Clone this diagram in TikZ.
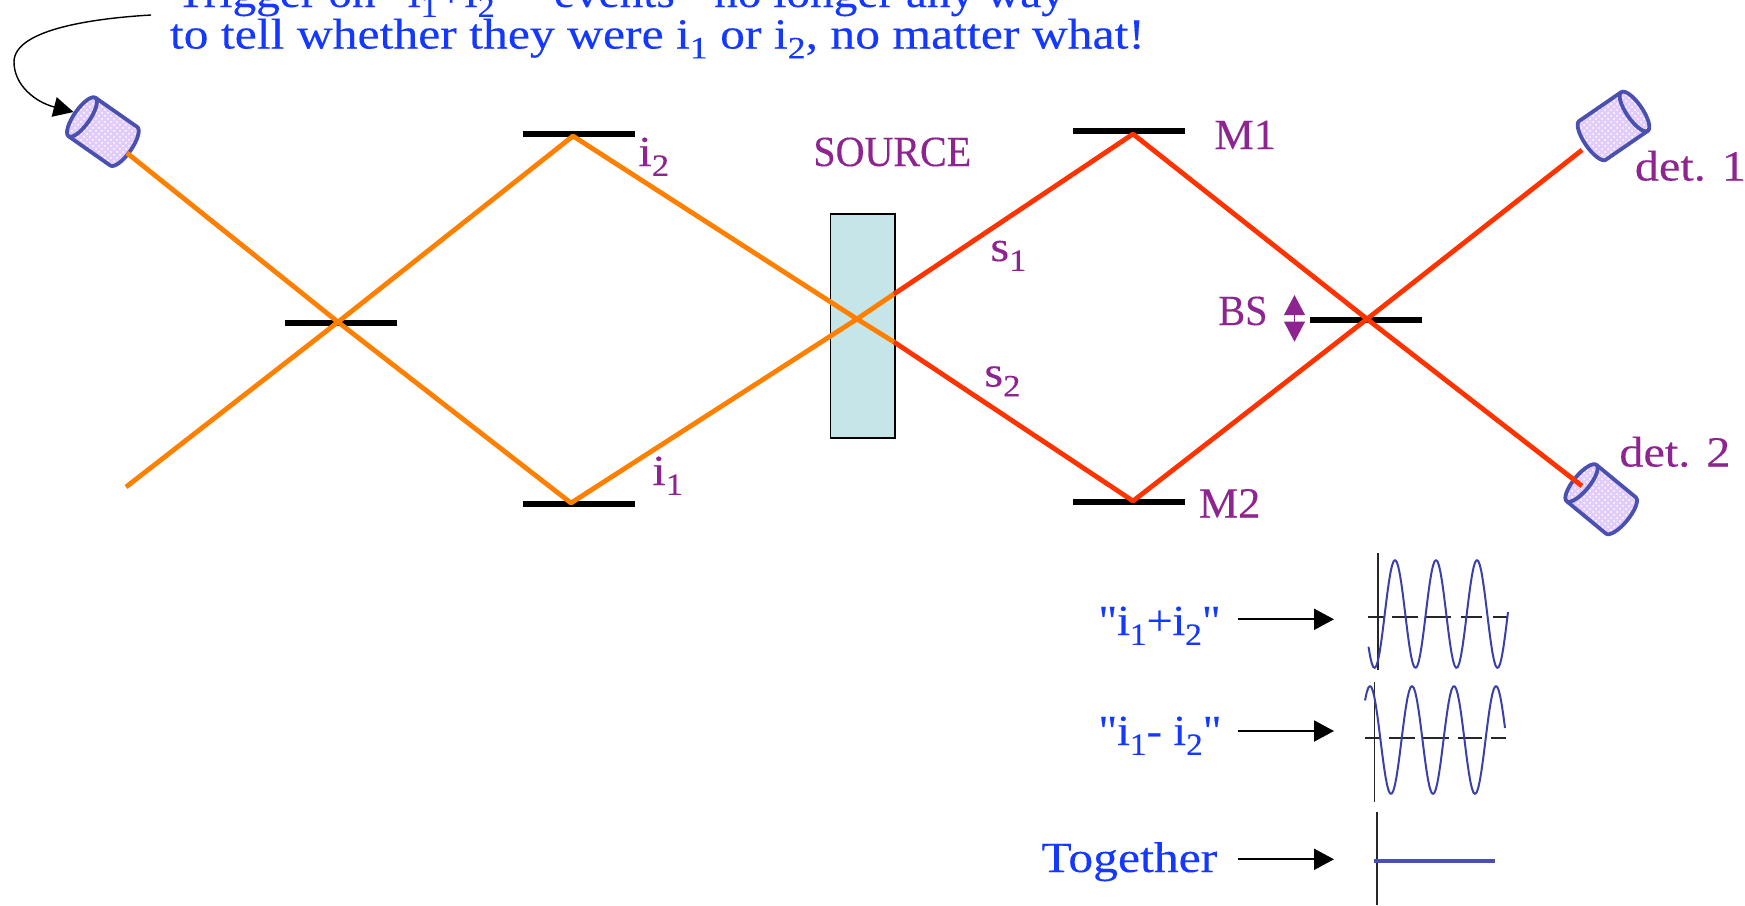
\documentclass[tikz,border=0pt]{standalone}
\usepackage{fontspec}
\usetikzlibrary{arrows.meta,patterns}
\setmainfont{Liberation Serif}
\newfontfamily\lcfont[FakeStretch=1.12,FakeBold=0.25]{Liberation Serif}
\newfontfamily\ucfont[FakeStretch=0.93,FakeBold=0.25]{Liberation Serif}
\newfontfamily\blfont[FakeStretch=1.155,FakeBold=0.25]{Liberation Serif}
\newfontfamily\bafont[FakeStretch=1.10,FakeBold=0.25]{Liberation Serif}
\newfontfamily\bsfont[FakeStretch=1.03,FakeBold=0.25]{Liberation Serif}
\newfontfamily\bqfont[FakeStretch=1.07,FakeBold=0.25]{Liberation Serif}
\newcommand{\sbs}[1]{\raisebox{-0.23em}{\fontsize{15.5}{15.5}\selectfont #1}}
\definecolor{blu}{HTML}{1438FF}
\definecolor{pur}{HTML}{8E2490}
\definecolor{org}{HTML}{FF8000}
\definecolor{rd}{HTML}{FF3300}
\definecolor{dv}{HTML}{4A50B0}
\definecolor{wave}{HTML}{3A40A8}
\definecolor{boxc}{HTML}{C6E5E8}
\definecolor{detf}{HTML}{E2CCFA}
\tikzset{
  lab/.style={inner sep=0pt,anchor=base west,text=pur,font=\fontsize{21.5}{21.5}\selectfont\lcfont},
  ulab/.style={inner sep=0pt,anchor=base west,text=pur,font=\fontsize{21.5}{21.5}\selectfont\ucfont},
  blab/.style={inner sep=0pt,anchor=base west,text=blu,font=\fontsize{21.5}{21.5}\selectfont\blfont},
  mirror/.style={line width=3pt,black},
  oray/.style={line width=2.4pt,org,line join=round},
  rray/.style={line width=2.4pt,rd,line join=round},
  pointer/.style={line width=1pt,black,-{Triangle[length=10pt,width=10.5pt]}},
  wavec/.style={line width=1pt,wave,line join=round},
  axisl/.style={line width=0.8pt,black!85},
  detbody/.style={line width=1.9pt,draw=dv,line join=round,fill=detf}
}
\newcommand{\detshape}{(0,-23.5) -- (51,-23.5)
      .. controls (55.4,-23.5) and (59,-13) .. (59,0)
      .. controls (59,13) and (55.4,23.5) .. (51,23.5)
      -- (0,23.5) .. controls (-4.4,23.5) and (-8,13) .. (-8,0)
      .. controls (-8,-13) and (-4.4,-23.5) .. (0,-23.5) -- cycle}
\newcommand{\detector}[3]{%
  \begin{scope}[shift={(#1,#2)},rotate=#3]
    \path[fill=detf] \detshape;
    \path[pattern=crosshatch dots,pattern color=white] \detshape;
    \path[line width=1.9pt,draw=dv,line join=round] \detshape;
    \draw[line width=1.9pt,dv] (0,-23.5) .. controls (4.4,-23.5) and (8,-13) .. (8,0)
      .. controls (8,13) and (4.4,23.5) .. (0,23.5);
  \end{scope}}
\begin{document}
\begin{tikzpicture}[x=0.5pt,y=-0.5pt]
\useasboundingbox (0,0) rectangle (1745,905);
\clip (0,0) rectangle (1745,905);
% named points
\coordinate (DL) at (127,153);
\coordinate (XL) at (338,322);
\coordinate (TAIL) at (126,487);
\coordinate (I2) at (573,136);
\coordinate (I1) at (571,503);
\coordinate (XS) at (857,319);
\coordinate (S1) at (894,294);
\coordinate (S2) at (894,342);
\coordinate (M1) at (1133,134);
\coordinate (M2) at (1133,501);
\coordinate (BS) at (1367,319);
\coordinate (D1) at (1582,150);
\coordinate (D2) at (1582,486);
% source
\draw[fill=boxc,line width=0.8pt,draw=black] (830.5,214) rectangle (895,438);
% mirrors
\draw[mirror] (285,322.5) -- (397,322.5);
\draw[mirror] (523,133.5) -- (635,133.5);
\draw[mirror] (523,504) -- (635,504);
\draw[mirror] (1073,131) -- (1185,131);
\draw[mirror] (1073,502) -- (1185,502);
\draw[mirror] (1310,320) -- (1422,320);
% detectors
\detector{82}{117}{-35}
\detector{1634.5}{111.5}{-145.5}
\detector{1581.5}{483}{-39.5}
% beams
\draw[oray] (DL) -- (XL) -- (I1) -- (XS) -- (S1);
\draw[oray] (TAIL) -- (XL) -- (I2) -- (XS) -- (S2);
\draw[rray] (S1) -- (M1) -- (BS) -- (D2);
\draw[rray] (S2) -- (M2) -- (BS) -- (D1);
% top text
\node[blab,font=\fontsize{21.5}{21.5}\selectfont\bafont] (line1) at (176,7) {Trigger on\hspace{6.3pt}"i\sbs{1}+i\sbs{2}"\hspace{20pt}events - no longer any way};
\node[blab] (line2) at (169.5,48.5) {to tell whether they were i\sbs{1} or i\sbs{2}, no matter what!};
\coordinate (CS) at (151,15);
\coordinate (CE) at (73.5,112);
\draw[line width=0.7pt,black,-{Triangle[length=10pt,width=10pt]}] (CS) .. controls (100,18) and (14,28) .. (14,62) .. controls (14,85) and (35,102) .. (CE);
% labels
\node[ulab] (source) at (813,166) {SOURCE};
\node[ulab,font=\fontsize{21.5}{21.5}\selectfont\bsfont] (m1) at (1214,149) {M1};
\node[ulab,font=\fontsize{21.5}{21.5}\selectfont\bsfont] (m2) at (1198.5,517.5) {M2};
\node[ulab,font=\fontsize{21.5}{21.5}\selectfont\bafont,xscale=0.85] (bs) at (1218,325) {BS};
\node[lab] (det1) at (1634.5,180.5) {det. 1};
\node[lab] (det2) at (1619,466.5) {det. 2};
\node[lab] (i2) at (638,166) {i\sbs{2}};
\node[lab] (i1) at (652,485) {i\sbs{1}};
\node[lab] (s1) at (990,261) {s\sbs{1}};
\node[lab] (s2) at (984,386.5) {s\sbs{2}};
% BS double arrow
\coordinate (BU) at (1294.5,295);
\coordinate (BD) at (1294.5,341.7);
\draw[line width=0.6pt,pur,{Triangle[length=10pt,width=10.4pt]}-{Triangle[length=10pt,width=10.4pt]}] (BU) -- (BD);
% signal labels
\node[blab,font=\fontsize{21.5}{21.5}\selectfont\bqfont] (plus) at (1098,635) {"i\sbs{1}+i\sbs{2}"};
\node[blab,font=\fontsize{21.5}{21.5}\selectfont\bqfont] (minus) at (1098,745) {"i\sbs{1}- i\sbs{2}"};
\node[blab] (tog) at (1041,872) {Together};
\coordinate (A1s) at (1238,619.3); \coordinate (A1e) at (1334,619.3);
\coordinate (A2s) at (1238,731); \coordinate (A2e) at (1334,731);
\coordinate (A3s) at (1238,859.3); \coordinate (A3e) at (1334,859.3);
\draw[pointer] (A1s) -- (A1e);
\draw[pointer] (A2s) -- (A2e);
\draw[pointer] (A3s) -- (A3e);
% plot 1
\draw[axisl] (1377.8,553) -- (1377.8,670);
\foreach \a/\b in {1368/1384,1392/1418,1425/1451,1461/1482,1493/1508}
  \draw[axisl] (\a,616.7) -- (\b,616.7);
\draw[wavec] plot[domain=1368.5:1508,samples=90] (\x,{614-54*cos(8.7805*(\x-1395))});
% plot 2
\draw[axisl] (1374.3,681.7) -- (1374.3,801.7);
\foreach \a/\b in {1365/1381,1389/1415,1422/1449,1458/1482,1491/1506}
  \draw[axisl] (\a,737.7) -- (\b,737.7);
\draw[wavec] plot[domain=1365:1505,samples=90] (\x,{740-54*cos(8.5714*(\x-1370))});
% plot 3
\draw[axisl] (1377,811.7) -- (1377,905);
\draw[line width=2pt,dv] (1374,860.7) -- (1495,860.7);
\end{tikzpicture}
\end{document}
